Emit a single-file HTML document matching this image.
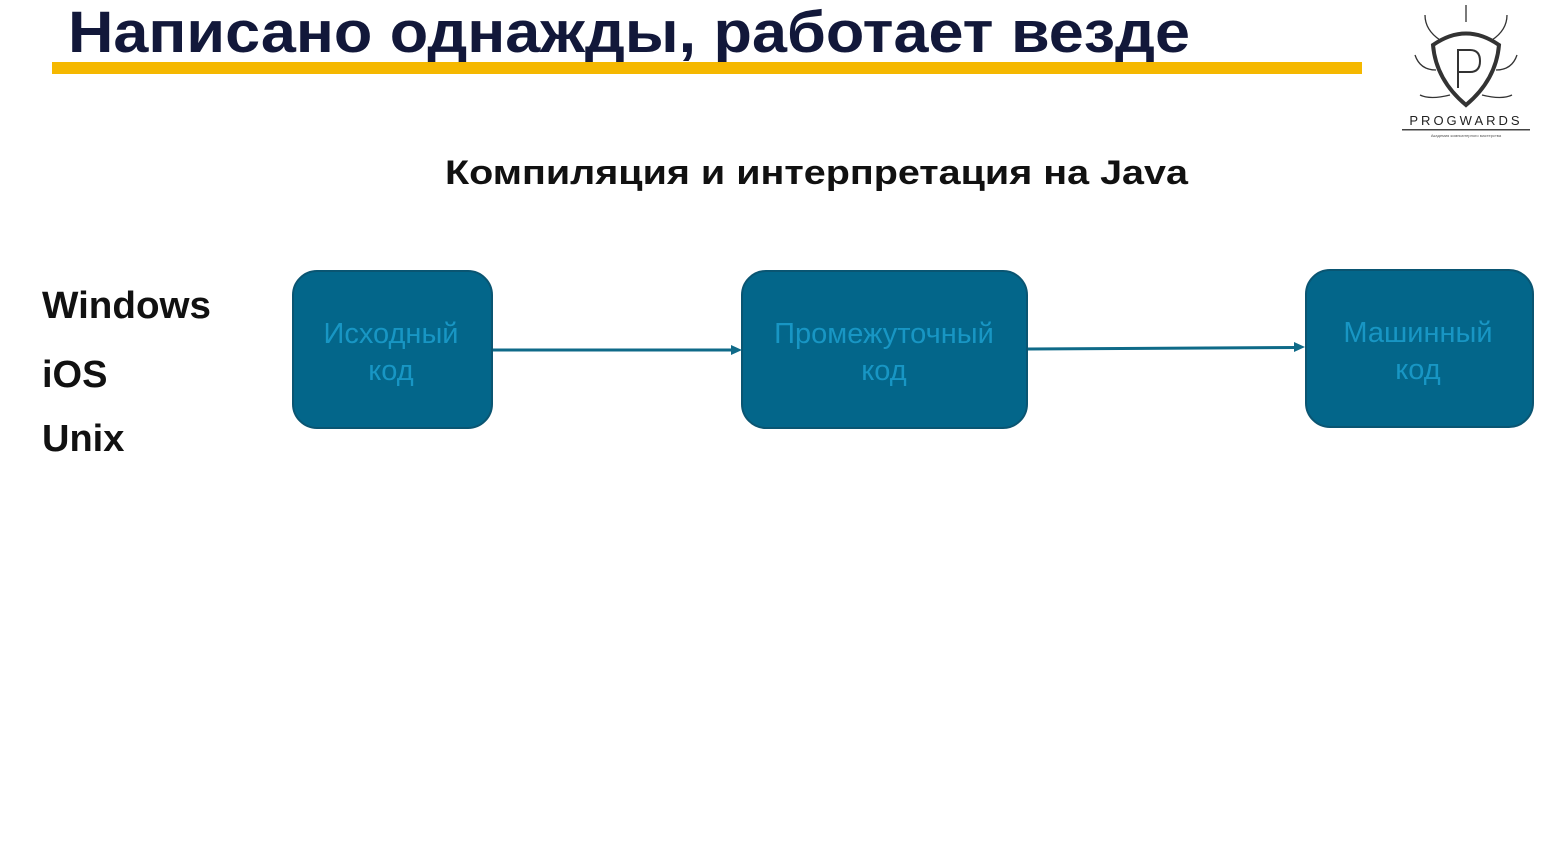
<!DOCTYPE html>
<html><head><meta charset="utf-8"><style>
html,body{margin:0;padding:0;background:#fff;width:1555px;height:857px;overflow:hidden}
svg{display:block}
</style></head><body>
<svg width="1555" height="857" viewBox="0 0 1555 857" xmlns="http://www.w3.org/2000/svg" font-family="Liberation Sans, Noto Sans CJK SC, sans-serif">
<rect width="1555" height="857" fill="#fff"/>
<text x="68" y="52" font-size="58" font-weight="bold" fill="#12183a" textLength="1122" lengthAdjust="spacingAndGlyphs">Написано однажды, работает везде</text>
<rect x="52" y="62" width="1310" height="12" fill="#f5b800"/>
<g fill="none" stroke="#333" stroke-width="2">
<path d="M1433 45 Q1466 22 1499 45 Q1496 80 1466 105 Q1436 80 1433 45 Z" stroke-width="4"/>
<path d="M1458 88 V50 H1470 Q1480 50 1480 61 Q1480 72 1470 72 H1458"/>
<path d="M1466 22 V5 M1440 40 Q1425 30 1425 15 M1492 40 Q1507 30 1507 15 M1436 70 Q1420 70 1415 55 M1496 70 Q1512 70 1517 55 M1450 95 Q1430 100 1420 95 M1482 95 Q1502 100 1512 95" stroke-width="1.3"/>
</g>
<text x="1466" y="125" font-size="13" fill="#222" text-anchor="middle" letter-spacing="3">PROGWARDS</text>
<rect x="1402" y="129" width="128" height="1.5" fill="#444"/>
<text x="1466" y="137" font-size="4" fill="#555" text-anchor="middle">Академия компьютерного мастерства</text>
<text x="445" y="184" font-size="34" font-weight="bold" fill="#111" textLength="743" lengthAdjust="spacingAndGlyphs">Компиляция и интерпретация на  Java</text>
<g font-size="38" font-weight="bold" fill="#111">
<text x="42" y="318" textLength="169" lengthAdjust="spacingAndGlyphs">Windows</text>
<text x="42" y="387">iOS</text>
<text x="42" y="451">Unix</text>
</g>
<g fill="#03668a" stroke="#0a5572" stroke-width="2">
<rect x="293" y="271" width="199" height="157" rx="24"/>
<rect x="742" y="271" width="285" height="157" rx="24"/>
<rect x="1306" y="270" width="227" height="157" rx="24"/>
</g>
<g font-size="29" fill="#1896c4" text-anchor="middle">
<text x="391" y="343">Исходный</text><text x="391" y="380">код</text>
<text x="884" y="343">Промежуточный</text><text x="884" y="380">код</text>
<text x="1418" y="342">Машинный</text><text x="1418" y="379">код</text>
</g>
<g stroke="#0f6a88" stroke-width="3" fill="#0f6a88">
<line x1="493" y1="350" x2="733" y2="350"/>
<path d="M742 350 L731 345 L731 355 Z" stroke="none"/>
<line x1="1028" y1="349" x2="1296" y2="347.5"/>
<path d="M1305 347 L1294 342 L1294 352 Z" stroke="none"/>
</g>
</svg>
</body></html>
